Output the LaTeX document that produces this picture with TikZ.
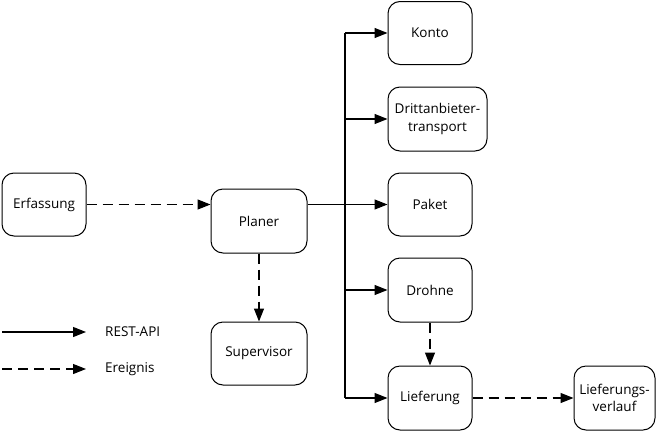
\documentclass[tikz,border=0pt]{standalone}
\usepackage{fontspec}
\setmainfont{Open Sans}
\usetikzlibrary{arrows.meta}
\begin{document}
\begin{tikzpicture}[x=1pt,y=-1pt,
  box/.style={draw, rounded corners=12pt, minimum width=84pt, minimum height=63pt, align=center, font=\fontsize{13.5}{17.5}\selectfont, inner sep=1pt, line width=1pt},
  api/.style={line width=1.1pt, -{Triangle[length=13pt,width=10pt]}},
  evt/.style={api, dash pattern=on 10pt off 6pt},
  lbl/.style={font=\fontsize{13.5}{17}\selectfont, anchor=west, inner sep=0pt}]
\useasboundingbox (0,0) rectangle (660,431);
\node[box] (erf) at (44,204.5) {Erfassung};
\node[box, minimum width=96pt, minimum height=64pt] (plan) at (259,221) {Planer};
\node[box, minimum width=96pt] (sup) at (259,353.5) {Supervisor};
\node[box] (konto) at (430,33) {Konto};
\node[box, minimum width=99pt, minimum height=64pt] (dritt) at (437.5,119) {Drittanbieter-\\transport};
\node[box] (paket) at (430,204.5) {Paket};
\node[box, minimum height=64pt] (drohne) at (430,290) {Drohne};
\node[box, minimum height=64pt] (lief) at (430,398) {Lieferung};
\node[box, minimum width=81pt, minimum height=64pt] (verl) at (614.5,398) {Lieferungs-\\verlauf};
\coordinate (top) at (345,33);
\coordinate (bot) at (345,398);
\draw[line width=1.1pt] (top) -- (bot);
\draw[api] (top) -- (konto.west);
\draw[api] (345,119) -- (dritt.west);
\draw[api] (plan.east |- paket.west) -- (paket.west);
\draw[api] (345,290) -- (drohne.west);
\draw[api] (bot) -- (lief.west);
\draw[evt] (erf.east) -- (plan.west |- erf.east);
\draw[evt] (plan.south) -- (sup.north);
\draw[evt] (drohne.south) -- (lief.north);
\draw[evt] (lief.east) -- (verl.west);
\coordinate (l1a) at (2,332);
\coordinate (l1b) at (86,332);
\coordinate (l2a) at (2,369);
\coordinate (l2b) at (86,369);
\draw[api] (l1a) -- (l1b);
\draw[evt] (l2a) -- (l2b);
\node[lbl] (rest) at (105,332) {REST-API};
\node[lbl] (ereig) at (105,369) {Ereignis};
\end{tikzpicture}
\end{document}
